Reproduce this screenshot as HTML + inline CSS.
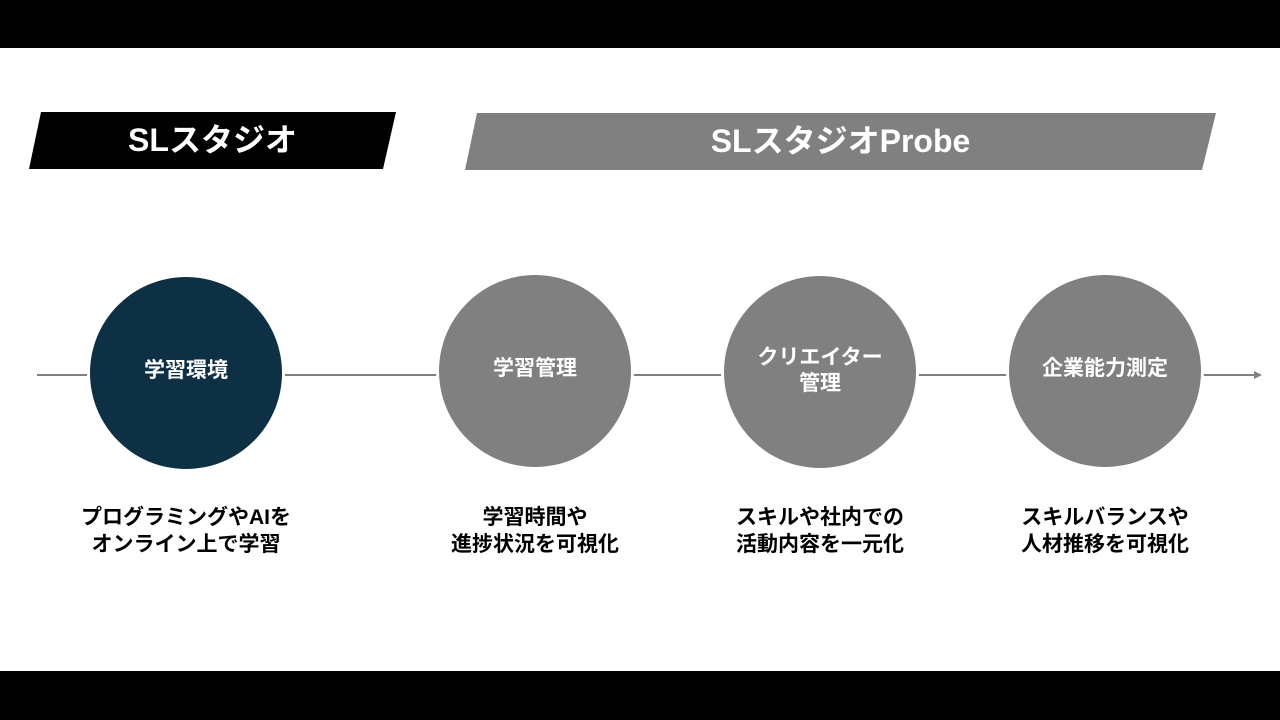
<!DOCTYPE html>
<html><head><meta charset="utf-8"><style>
body{margin:0;width:1280px;height:720px;overflow:hidden;background:#fff;font-family:"Liberation Sans","Noto Sans CJK JP",sans-serif;}
.t{position:absolute;font-weight:bold;text-align:center;}
</style></head><body>
<svg width="1280" height="720" style="position:absolute;left:0;top:0">
<rect x="0" y="0" width="1280" height="48" fill="#000"/>
<rect x="0" y="671" width="1280" height="49" fill="#000"/>
<polygon points="41,112 396,112 383,169 29,169" fill="#000"/>
<polygon points="477,113 1216,113 1202,170 465,170" fill="#808080"/>
<line x1="37" y1="375" x2="1256" y2="375" stroke="#808080" stroke-width="2"/>
<polygon points="1254,371 1262,375 1254,379" fill="#808080"/>
<circle cx="186" cy="373" r="99" fill="#fff"/>
<circle cx="535" cy="371" r="99" fill="#fff"/>
<circle cx="820" cy="372" r="99" fill="#fff"/>
<circle cx="1105" cy="371" r="99" fill="#fff"/>
<circle cx="186" cy="373" r="96" fill="#0e3044"/>
<circle cx="535" cy="371" r="96" fill="#808080"/>
<circle cx="820" cy="372" r="96" fill="#808080"/>
<circle cx="1105" cy="371" r="96" fill="#808080"/>
</svg>
<div class="t" style="left:29px;top:118px;width:367px;font-size:32px;color:#fff;line-height:44px">SLスタジオ</div>
<div class="t" style="left:465px;top:119px;width:751px;font-size:32px;color:#fff;line-height:44px">SLスタジオProbe</div>
<div class="t" style="left:90px;top:357px;width:192px;font-size:21px;color:#fff;line-height:28px">学習環境</div>
<div class="t" style="left:439px;top:355px;width:192px;font-size:21px;color:#fff;line-height:28px">学習管理</div>
<div class="t" style="left:724px;top:345px;width:192px;font-size:21px;color:#fff;line-height:26px">クリエイター<br>管理</div>
<div class="t" style="left:1009px;top:355px;width:192px;font-size:21px;color:#fff;line-height:28px">企業能力測定</div>
<div class="t" style="left:36px;top:504px;width:300px;font-size:21px;color:#000;line-height:27px">プログラミングやAIを<br>オンライン上で学習</div>
<div class="t" style="left:385px;top:504px;width:300px;font-size:21px;color:#000;line-height:27px">学習時間や<br>進捗状況を可視化</div>
<div class="t" style="left:670px;top:504px;width:300px;font-size:21px;color:#000;line-height:27px">スキルや社内での<br>活動内容を一元化</div>
<div class="t" style="left:955px;top:504px;width:300px;font-size:21px;color:#000;line-height:27px">スキルバランスや<br>人材推移を可視化</div>
</body></html>
